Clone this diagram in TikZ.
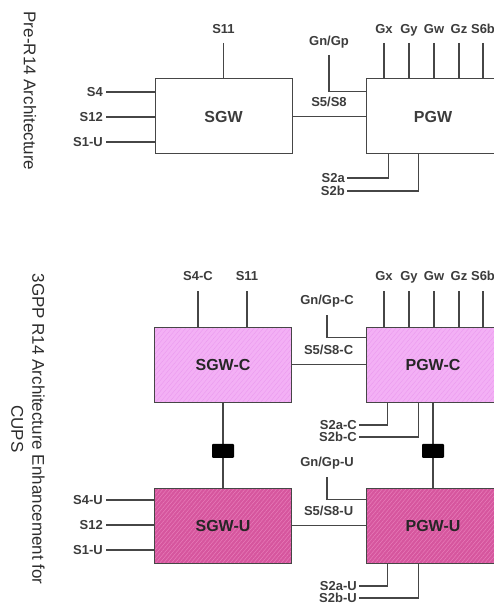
\documentclass[tikz,border=0pt]{standalone}
\usepackage{fontspec}
\setmainfont{Liberation Sans}
\usetikzlibrary{positioning, calc, patterns.meta}
\definecolor{wireGray}{RGB}{70,70,70}
\definecolor{txtGray}{RGB}{60,60,60}
\definecolor{sideGray}{RGB}{45,45,45}
\definecolor{ctrlPink}{RGB}{243,176,245}
\definecolor{ctrlHatch}{RGB}{233,150,238}
\definecolor{userPink}{RGB}{214,86,158}
\definecolor{userHatch}{RGB}{232,125,186}
\tikzset{
  box/.style={rectangle, draw=wireGray, line width=1pt,
    minimum width=137pt, minimum height=75pt, inner sep=0pt,
    font=\fontsize{16}{18}\selectfont\bfseries, text=txtGray},
  gwbox/.style={box, minimum width=134pt},
  ctrlN/.style={preaction={fill=ctrlPink},
    pattern={Lines[angle=50,distance=3.5pt,line width=0.3pt]},
    pattern color=ctrlHatch, text=black!85},
  userN/.style={preaction={fill=userPink},
    pattern={Lines[angle=50,distance=3pt,line width=0.5pt]},
    pattern color=userHatch, text=black!85},
  lbl/.style={font=\fontsize{13}{15}\selectfont\bfseries, text=txtGray,
    inner sep=0pt, text height=9.5pt, text depth=0pt},
  wire/.style={draw=wireGray, line width=1.1pt},
  blk/.style={fill=black, minimum width=22pt, minimum height=14pt,
    inner sep=0pt, rounded corners=1pt},
  side/.style={font=\fontsize{17}{21}\selectfont, text=sideGray,
    rotate=-90, align=center},
}

\begin{document}
\begin{tikzpicture}[x=1pt, y=-1pt]
\useasboundingbox (0,0) rectangle (494,604);
\clip (0,0) rectangle (494,604);

% Pre-R14
\node[side] (cap1) at (30,91) {Pre-R14 Architecture};

\node[box] (sgw) at (223.5,116.5) {SGW};
\node[gwbox] (pgw) at (433,116.5) {PGW};

\coordinate (s11E) at (223.5,43);
\draw[wire] (s11E) -- (s11E |- sgw.north);
\node[lbl, above=9pt of s11E] {S11};

\foreach \nm/\y in {S4/92, S12/117, S1-U/142} {
  \coordinate (lft\y) at (106,\y);
  \draw[wire] (lft\y) -- (lft\y -| sgw.west);
  \node[lbl, left=3pt of lft\y] {\nm};
}

\draw[wire] (sgw) -- node[lbl, above=9pt] {S5/S8} (pgw);

\coordinate (gnE) at (329,55);
\draw[wire] (gnE) |- ($(pgw.north west)+(0,13)$);
\node[lbl, above=9pt of gnE] {Gn/Gp};

\foreach \nm/\x in {Gx/384, Gy/409, Gw/434, Gz/459, S6b/483} {
  \coordinate (top\nm) at (\x,43);
  \draw[wire] (top\nm) -- (top\nm |- pgw.north);
  \node[lbl, above=9pt of top\nm] {\nm};
}

\coordinate (s2aE) at (347,178);
\coordinate (s2bE) at (347,191);
\draw[wire] (s2aE) -| ($(pgw.south west)+(23,0)$);
\draw[wire] (s2bE) -| ($(pgw.south west)+(53,0)$);
\node[lbl, left=2pt of s2aE] {S2a};
\node[lbl, left=2pt of s2bE] {S2b};

% R14 CUPS
\node[side] (cap2) at (28,429) {3GPP R14 Architecture Enhancement for\\CUPS};

\node[box, ctrlN] (sgwc) at (223,364.5) {SGW-C};
\node[gwbox, ctrlN] (pgwc) at (433,364.5) {PGW-C};
\node[box, userN] (sgwu) at (223,525.5) {SGW-U};
\node[gwbox, userN] (pgwu) at (433,525.5) {PGW-U};

\foreach \nm/\x in {S4-C/198, S11/247} {
  \coordinate (ctop\x) at (\x,291);
  \draw[wire] (ctop\x) -- (ctop\x |- sgwc.north);
  \node[lbl, above=10pt of ctop\x] {\nm};
}

\foreach \nm/\x in {Gx/384, Gy/409, Gw/434, Gz/459, S6b/483} {
  \coordinate (ptop\nm) at (\x,291);
  \draw[wire] (ptop\nm) -- (ptop\nm |- pgwc.north);
  \node[lbl, above=10pt of ptop\nm] {\nm};
}

\draw[wire] (sgwc) -- node[lbl, above=9pt] {S5/S8-C} (pgwc);

\coordinate (gncE) at (327,315);
\draw[wire] (gncE) |- ($(pgwc.north west)+(0,11)$);
\node[lbl, above=10pt of gncE] {Gn/Gp-C};

\coordinate (s2acE) at (359,425);
\coordinate (s2bcE) at (359,437);
\draw[wire] (s2acE) -| ($(pgwc.south west)+(22,0)$);
\draw[wire] (s2bcE) -| ($(pgwc.south west)+(53,0)$);
\node[lbl, left=2pt of s2acE] {S2a-C};
\node[lbl, left=2pt of s2bcE] {S2b-C};

\draw[wire] (sgwc) -- node[blk, pos=0.57] {} (sgwu);
\draw[wire] (pgwc) -- node[blk, pos=0.57] {} (pgwu);

\foreach \nm/\y in {S4-U/500, S12/525, S1-U/550} {
  \coordinate (ulft\y) at (106,\y);
  \draw[wire] (ulft\y) -- (ulft\y -| sgwu.west);
  \node[lbl, left=3pt of ulft\y] {\nm};
}

\draw[wire] (sgwu) -- node[lbl, above=9pt] {S5/S8-U} (pgwu);

\coordinate (gnuE) at (327,477);
\draw[wire] (gnuE) |- ($(pgwu.north west)+(0,12)$);
\node[lbl, above=10pt of gnuE] {Gn/Gp-U};

\coordinate (s2auE) at (359,586);
\coordinate (s2buE) at (359,598);
\draw[wire] (s2auE) -| ($(pgwu.south west)+(22,0)$);
\draw[wire] (s2buE) -| ($(pgwu.south west)+(53,0)$);
\node[lbl, left=2pt of s2auE] {S2a-U};
\node[lbl, left=2pt of s2buE] {S2b-U};

\end{tikzpicture}
\end{document}
